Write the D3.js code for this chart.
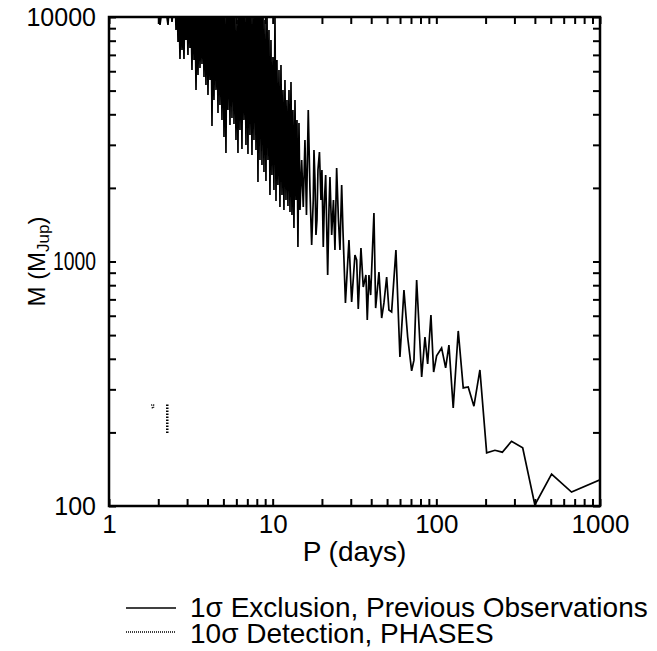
<!DOCTYPE html>
<html><head><meta charset="utf-8">
<script src="https://cdn.jsdelivr.net/npm/d3@7"></script>
<style>body{margin:0;background:#fff}svg{display:block}text{font-family:"Liberation Sans",Arial,sans-serif;fill:#000}</style>
</head><body><svg id="c" width="657" height="651"></svg>
<script>
// Previous observations, 1-sigma exclusion (period in days, mass in M_Jup)
const prevP = [1.937,2.049,2.168,2.293,2.358,2.426,2.531,
2.567,2.603,2.640,2.677,2.715,2.753,2.792,2.832,2.872,2.912,2.953,2.995,3.037,3.081,3.124,3.169,3.214,3.259,3.306,3.353,3.401,3.449,3.498,3.547,3.597,3.648,3.700,3.752,3.805,3.859,3.913,3.969,4.025,4.082,4.140,4.199,4.258,4.319,4.380,4.442,4.505,4.568,4.634,4.699,4.765,4.833,4.901,4.971,5.041,5.112,5.184,5.258,5.333,5.408,5.485,5.563,5.641,5.721,5.802,5.884,5.968,6.052,6.138,6.224,6.312,6.402,6.493,6.585,6.678,6.773,6.869,6.966,7.065,7.165,7.266,7.369,7.474,7.580,7.687,7.795,7.907,8.020,8.133,8.248,8.365,8.482,8.602,8.723,8.848,8.974,9.101,9.231,9.361,9.493,9.627,9.763,9.901,10.04,10.18,10.33,10.48,10.62,10.77,10.93,11.08,11.24,11.40,11.56,11.72,11.89,12.06,12.23,12.40,12.58,12.76,12.94,13.12,13.30,13.49,13.69,13.88,14.08,14.27,14.48,14.69,
15.04,15.38,15.75,16.09,16.50,16.90,17.31,17.70,17.88,18.13,18.39,18.65,18.91,19.31,19.73,20.00,20.38,20.72,21.08,21.68,22.08,22.39,22.94,23.52,24.02,24.60,25.23,25.77,26.40,26.88,27.84,29.25,30.38,31.82,32.60,33.34,34.63,35.76,37.14,37.84,38.75,39.69,41.57,42.58,44.61,46.34,47.86,49.71,51.33,53.31,56.64,59.92,63.41,66.80,70.66,72.99,75.81,81.35,85.22,88.51,92.69,96.27,100.4,107.7,114.0,119.4,126.8,136.1,146.0,156.6,169.7,184.6,203,228,253,288,337,400,506,670,1000];
const prevM = [12300,9275,12300,9275,12300,9541,12900,
8848,12900,7906,11740,6733,12300,7328,10680,6733,12900,8052,11740,6992,12900,7468,10680,6072,12900,6672,11740,5028,12300,5790,12900,6186,10680,6425,12900,5682,11740,5271,12900,4797,10680,5525,12900,3583,11740,4577,12300,5028,10680,4050,12900,4367,11740,3791,12900,3230,10680,2779,12300,4165,12900,3617,11740,3863,12900,3651,10680,3140,9720,2779,12900,3450,11740,2885,12900,3791,10680,2996,12300,2752,12900,3292,11740,2727,10680,3140,12900,2858,11740,2115,12300,2601,12900,2481,11740,2323,9720,2134,10680,2601,8848,1871,8052,2258,6862,1961,10190,1768,6672,2056,6072,1671,6363,1871,5028,1624,5525,1785,4577,1687,5028,1594,5424,1550,4165,1371,4577,1785,3791,1146,3686,1624,
2601,1671,3140,1550,4165,1961,1168,1785,2858,2154,1283,1478,2367,2805,1785,2367,1146,1785,2258,881,1624,2216,1283,1785,1114,2413,1478,1114,2056,1345,677,1224,683,1063,1014,639,1136,786,881,576,881,729,1579,645,906,587,677,864,633,622,1114,407,764,491,357,395,840,337,491,381,604,353,411,443,367,455,252,520,304,307,256,360,165,169,166,184,173,101,135,114,128];
// PHASES 10-sigma detection (two short dotted pieces)
const phasesA_P = [1.81,1.87,1.87,1.81];
const phasesA_M = [259,259,252,252];
const phasesB_P = [2.27,2.27];
const phasesB_M = [260,198];
const xTickLabels = ["1","10","100","1000"];
const yTickLabels = ["100","1000","10000"];
const legendLabels = ["1\u03c3 Exclusion, Previous Observations","10\u03c3 Detection, PHASES"];

const svg = d3.select("#c");
const L=109,R=600,T=17,B=506;
const x = d3.scaleLog().domain([1,1000]).range([L,R]);
const y = d3.scaleLog().domain([100,10000]).range([B,T]);

svg.append("defs").append("clipPath").attr("id","clip").append("rect")
  .attr("x",L).attr("y",T).attr("width",R-L).attr("height",B-T);

const xt=[],yt=[];
for(let d=1;d<1000;d*=10){for(let k=1;k<10;k++)xt.push(d*k);} xt.push(1000);
for(let d=100;d<10000;d*=10){for(let k=1;k<10;k++)yt.push(d*k);} yt.push(10000);
const isMajor=v=>Math.abs(Math.log10(v)-Math.round(Math.log10(v)))<1e-9;

const tl=7;
const gx=svg.append("g").attr("transform",`translate(0,${B})`)
  .call(d3.axisBottom(x).tickValues(xt).tickSizeInner(-tl).tickSizeOuter(0).tickPadding(9)
    .tickFormat(v=>isMajor(v)?xTickLabels[Math.round(Math.log10(v))]:""));
const gxt=svg.append("g").attr("transform",`translate(0,${T})`)
  .call(d3.axisTop(x).tickValues(xt).tickSizeInner(-tl).tickSizeOuter(0).tickFormat(""));
const gy=svg.append("g").attr("transform",`translate(${L},0)`)
  .call(d3.axisLeft(y).tickValues(yt).tickSizeInner(-tl).tickSizeOuter(0).tickPadding(13)
    .tickFormat(v=>isMajor(v)?yTickLabels[Math.round(Math.log10(v))-2]:""));
const gyr=svg.append("g").attr("transform",`translate(${R},0)`)
  .call(d3.axisRight(y).tickValues(yt).tickSizeInner(-tl).tickSizeOuter(0).tickFormat(""));
[gx,gxt,gy,gyr].forEach(g=>{g.select(".domain").remove();g.selectAll("line").attr("stroke","#000").attr("stroke-width",2);
  g.selectAll("text").attr("font-family",null);});
gy.selectAll("text").style("font-size","25px");
gx.selectAll("text").style("font-size","26px").attr("dy","0.71em");
// the reference squeezes the middle y label next to the axis title
gy.selectAll("text").filter(v=>v===1000).attr("textLength",43).attr("lengthAdjust","spacingAndGlyphs");

const line=d3.line().x(d=>x(d[0])).y(d=>y(d[1]));
svg.append("path").attr("clip-path","url(#clip)")
  .attr("d",line(prevP.map((p,i)=>[p,prevM[i]])))
  .attr("fill","none").attr("stroke","#000").attr("stroke-width",1.7).attr("stroke-linejoin","miter");
svg.append("path").attr("d",line(phasesA_P.map((p,i)=>[p,phasesA_M[i]])))
  .attr("fill","none").attr("stroke","#000").attr("stroke-width",1.5).attr("stroke-dasharray","1,1");
svg.append("path").attr("d",line(phasesB_P.map((p,i)=>[p,phasesB_M[i]])))
  .attr("fill","none").attr("stroke","#000").attr("stroke-width",2.5).attr("stroke-dasharray","1.5,1.5");

svg.append("rect").attr("x",L).attr("y",T).attr("width",R-L).attr("height",B-T)
  .attr("fill","none").attr("stroke","#000").attr("stroke-width",2.5);

svg.append("text").attr("x",(L+R)/2).attr("y",561).attr("text-anchor","middle").style("font-size","28px").text("P (days)");
const yl=svg.append("text").attr("transform",`translate(45,${(T+B)/2}) rotate(-90)`).attr("text-anchor","middle").style("font-size","24px");
yl.append("tspan").text("M (M");
yl.append("tspan").attr("dy",4).style("font-size","17px").text("Jup");
yl.append("tspan").attr("dy",-4).text(")");

const lg=svg.append("g");
lg.append("line").attr("x1",126).attr("x2",176).attr("y1",608).attr("y2",608).attr("stroke","#000").attr("stroke-width",1.5);
lg.append("line").attr("x1",126).attr("x2",176).attr("y1",632).attr("y2",632).attr("stroke","#000").attr("stroke-width",1.5).attr("stroke-dasharray","1,1");
lg.append("text").attr("x",190).attr("y",617).style("font-size","28px").text(legendLabels[0]);
lg.append("text").attr("x",190).attr("y",643).style("font-size","28px").text(legendLabels[1]);
</script></body></html>
